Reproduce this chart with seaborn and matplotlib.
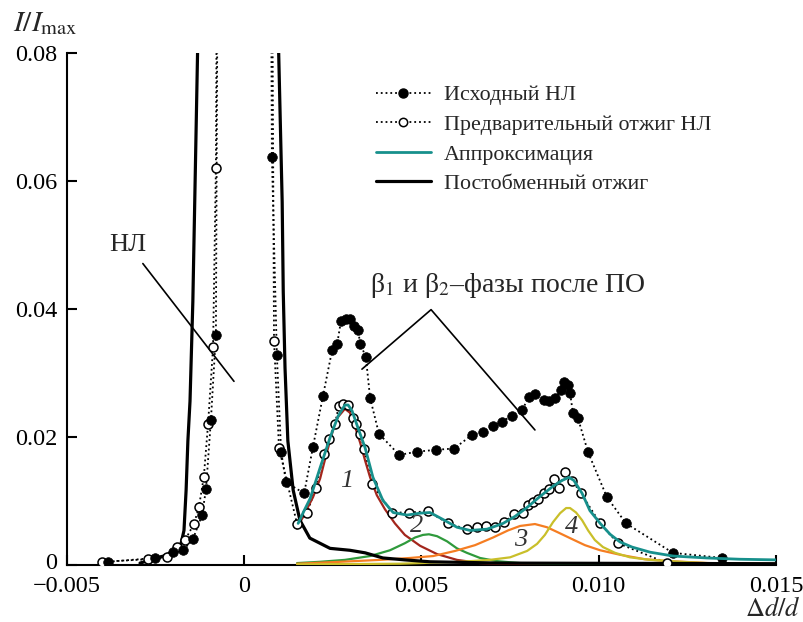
import matplotlib
matplotlib.use("Agg")
import matplotlib.pyplot as plt
from matplotlib.lines import Line2D
import matplotlib.transforms as mtransforms
import seaborn as sns
import pandas as pd

# ---------------- data ----------------
# Исходный НЛ (filled circles)
src_x = [-0.00384, -0.00252, -0.00201, -0.00173, -0.00145, -0.00119, -0.00108, -0.00094, -0.00080,
         0.0, 0.00078, 0.00092, 0.00104, 0.00118, 0.00169, 0.00194, 0.00222, 0.00248, 0.00262,
         0.00273, 0.00287, 0.00298, 0.00310, 0.00321, 0.00327, 0.00343, 0.00355, 0.00380, 0.00437,
         0.00487, 0.00541, 0.00592, 0.00642, 0.00674, 0.00702, 0.00727, 0.00755, 0.00784, 0.00803,
         0.00820, 0.00846, 0.00860, 0.00877, 0.00894, 0.00902, 0.00913, 0.00919, 0.00927, 0.00941,
         0.00970, 0.01023, 0.01077, 0.01209, 0.01348]
src_y = [0.0005, 0.0011, 0.0020, 0.0023, 0.0040, 0.0078, 0.0118, 0.0227, 0.0360,
         1.0, 0.0637, 0.0328, 0.0177, 0.0129, 0.0112, 0.0185, 0.0264, 0.0336, 0.0345,
         0.0382, 0.0385, 0.0385, 0.0374, 0.0367, 0.0346, 0.0325, 0.0261, 0.0205, 0.0172,
         0.0177, 0.0180, 0.0182, 0.0203, 0.0208, 0.0217, 0.0224, 0.0233, 0.0242, 0.0263,
         0.0267, 0.0258, 0.0256, 0.0261, 0.0273, 0.0286, 0.0281, 0.0269, 0.0238, 0.0230,
         0.0176, 0.0106, 0.0065, 0.0019, 0.0011]

# Предварительный отжиг НЛ (open circles)
pre_x = [-0.00401, -0.00272, -0.00218, -0.00190, -0.00167, -0.00142, -0.00128, -0.00114, -0.00102,
         -0.00088, -0.00080, 0.0, 0.00084, 0.00098, 0.00149, 0.00177, 0.00202, 0.00225, 0.00239,
         0.00256, 0.00267, 0.00279, 0.00293, 0.00307, 0.00315, 0.00327, 0.00338, 0.00360, 0.00417,
         0.00465, 0.00518, 0.00575, 0.00628, 0.00657, 0.00682, 0.00707, 0.00733, 0.00761, 0.00786,
         0.00800, 0.00815, 0.00829, 0.00846, 0.00860, 0.00874, 0.00888, 0.00905, 0.00925, 0.00950,
         0.01004, 0.01054, 0.01193]
pre_y = [0.0005, 0.0009, 0.0012, 0.0028, 0.0039, 0.0064, 0.0090, 0.0138, 0.0221,
         0.0340, 0.0621, 1.0, 0.0350, 0.0183, 0.0064, 0.0081, 0.0121, 0.0174, 0.0197,
         0.0221, 0.0249, 0.0252, 0.0250, 0.0230, 0.0221, 0.0205, 0.0182, 0.0127, 0.0082,
         0.0082, 0.0084, 0.0065, 0.0056, 0.0059, 0.0061, 0.0059, 0.0067, 0.0079, 0.0082,
         0.0093, 0.0099, 0.0103, 0.0112, 0.0118, 0.0135, 0.0121, 0.0146, 0.0132, 0.0112,
         0.0065, 0.0034, 0.0003]

# Аппроксимация (teal)
fit_x = [0.00152, 0.00169, 0.00186, 0.00214, 0.00242, 0.00265, 0.00284, 0.00293, 0.00304, 0.00321,
         0.00341, 0.00363, 0.00391, 0.00420, 0.00459, 0.00496, 0.00524, 0.00561, 0.00600, 0.00637,
         0.00685, 0.00730, 0.00764, 0.00798, 0.00834, 0.00871, 0.00896, 0.00916, 0.00930, 0.00953,
         0.00975, 0.01004, 0.01032, 0.01060, 0.01094, 0.01145, 0.01210, 0.01305, 0.01398, 0.01500]
fit_y = [0.0065, 0.0085, 0.0104, 0.0152, 0.0199, 0.0233, 0.0250, 0.0250, 0.0241, 0.0214,
         0.0183, 0.0137, 0.0101, 0.0082, 0.0078, 0.0081, 0.0082, 0.0071, 0.0059, 0.0054,
         0.0056, 0.0065, 0.0076, 0.0090, 0.0107, 0.0123, 0.0132, 0.0137, 0.0132, 0.0112,
         0.0085, 0.0065, 0.0048, 0.0036, 0.0028, 0.0020, 0.0014, 0.0011, 0.0009, 0.0008]

# Постобменный отжиг (black thick)
post_x = [-0.00294, -0.00243, -0.00218, -0.00195, -0.00178, -0.00170, -0.00164, -0.00159, -0.00153,
          -0.00145, -0.00130, 0.0, 0.00095, 0.00107, 0.00110, 0.00115, 0.00123, 0.00138, 0.00157,
          0.00185, 0.00242, 0.00298, 0.00341, 0.00391, 0.00453, 0.00524, 0.00721, 0.01500]
post_y = [0.0003, 0.0011, 0.0016, 0.0023, 0.0034, 0.0054, 0.0117, 0.0194, 0.0256,
          0.0412, 0.0850, 1.0, 0.0850, 0.0567, 0.0427, 0.0308, 0.0194, 0.0117, 0.0070,
          0.0042, 0.0026, 0.0023, 0.0019, 0.0011, 0.0008, 0.0005, 0.0003, 0.0002]

# component 1 (brown)
c1_x = [0.00149, 0.00171, 0.00194, 0.00214, 0.00233, 0.00250, 0.00264, 0.00284, 0.00298, 0.00312,
        0.00327, 0.00341, 0.00355, 0.00374, 0.00397, 0.00425, 0.00453, 0.00496, 0.00544, 0.00600,
        0.00665, 0.00750, 0.00900, 0.01500]
c1_y = [0.0057, 0.0081, 0.0106, 0.0135, 0.0176, 0.0210, 0.0231, 0.0244, 0.0238, 0.0217,
        0.0191, 0.0163, 0.0137, 0.0109, 0.0087, 0.0065, 0.0047, 0.0030, 0.0017, 0.0008,
        0.0003, 0.0001, 0.00005, 0.00002]

# component 2 (green)
c2_x = [0.00149, 0.00214, 0.00284, 0.00355, 0.00411, 0.00453, 0.00482, 0.00504, 0.00521, 0.00544,
        0.00572, 0.00600, 0.00628, 0.00665, 0.00713, 0.00778, 0.00890, 0.01140, 0.01500]
c2_y = [0.0003, 0.0005, 0.0008, 0.0014, 0.0023, 0.0034, 0.0043, 0.0047, 0.0048, 0.0045,
        0.0037, 0.0026, 0.0019, 0.0011, 0.0006, 0.0003, 0.00015, 0.0001, 0.0001]

# component 3 (orange)
c3_x = [0.00149, 0.00270, 0.00383, 0.00468, 0.00533, 0.00595, 0.00651, 0.00702, 0.00744, 0.00778,
        0.00820, 0.00854, 0.00885, 0.00919, 0.00961, 0.01004, 0.01060, 0.01130, 0.01200, 0.01310,
        0.01500]
c3_y = [0.0002, 0.0005, 0.0008, 0.0011, 0.0014, 0.0022, 0.0031, 0.0043, 0.0054, 0.0061,
        0.0064, 0.0059, 0.0051, 0.0042, 0.0031, 0.0023, 0.0016, 0.0009, 0.0006, 0.0003,
        0.0002]

# component 4 (olive yellow)
c4_x = [0.00149, 0.00440, 0.00610, 0.00693, 0.00750, 0.00798, 0.00826, 0.00848, 0.00871, 0.00891,
        0.00908, 0.00919, 0.00936, 0.00953, 0.00970, 0.00989, 0.01012, 0.01046, 0.01088, 0.01145,
        0.01230, 0.01340, 0.01500]
c4_y = [0.0001, 0.0002, 0.0005, 0.0008, 0.0012, 0.0022, 0.0033, 0.0047, 0.0067, 0.0081,
        0.0089, 0.0089, 0.0082, 0.0070, 0.0054, 0.0039, 0.0028, 0.0019, 0.0012, 0.0008,
        0.0005, 0.0002, 0.0001]

x_ticks = [-0.005, 0.0, 0.005, 0.010, 0.015]
x_tick_labels = ["\u22120.005", "0", "0.005", "0.010", "0.015"]
y_ticks = [0.0, 0.02, 0.04, 0.06, 0.08]
y_tick_labels = ["0", "0.02", "0.04", "0.06", "0.08"]

legend_labels = ["Исходный НЛ", "Предварительный отжиг НЛ", "Аппроксимация", "Постобменный отжиг"]
curve_labels = ["1", "2", "3", "4"]

# ---------------- style ----------------
sns.set_theme(style="ticks")
plt.rcParams["font.family"] = ["Liberation Serif", "DejaVu Serif"]
plt.rcParams["mathtext.fontset"] = "stix"

TEAL = "#17908c"
BROWN = "#a3261c"
GREEN = "#2f9a3c"
ORANGE = "#f57d22"
OLIVE = "#c9bf2a"

fig = plt.figure(figsize=(8.04, 6.22), dpi=100)
ax = fig.add_axes([67 / 804, 1 - 565 / 622, (776 - 67) / 804, (565 - 53) / 622])

def line(x, y, **kw):
    df = pd.DataFrame({"x": x, "y": y})
    sns.lineplot(data=df, x="x", y="y", ax=ax, sort=False, estimator=None, legend=False, **kw)

# components
line(c1_x, c1_y, color=BROWN, linewidth=1.6, zorder=3)
line(c2_x, c2_y, color=GREEN, linewidth=1.6, zorder=3)
line(c3_x, c3_y, color=ORANGE, linewidth=1.6, zorder=3)
line(c4_x, c4_y, color=OLIVE, linewidth=1.6, zorder=3)

# dotted series
line(src_x, src_y, color="black", linewidth=1.3, linestyle=":", zorder=2)
line(pre_x, pre_y, color="black", linewidth=1.3, linestyle=":", zorder=2)

# post-exchange anneal
line(post_x, post_y, color="black", linewidth=2.3, zorder=4)

# markers
sdf = pd.DataFrame({"x": src_x, "y": src_y})
pdf = pd.DataFrame({"x": pre_x, "y": pre_y})
sns.scatterplot(data=pdf, x="x", y="y", ax=ax, marker="o", s=42, facecolor="white",
                edgecolor="black", linewidth=1.1, zorder=5, legend=False)
sns.scatterplot(data=sdf, x="x", y="y", ax=ax, marker="o", s=48, color="black",
                edgecolor="black", linewidth=0.5, zorder=5, legend=False)

# fit
line(fit_x, fit_y, color=TEAL, linewidth=2.0, zorder=6)

# ---------------- axes ----------------
ax.set_xlim(-0.005, 0.015)
ax.set_ylim(0, 0.08)
ax.set_xticks(x_ticks)
ax.set_xticklabels(x_tick_labels)
ax.set_yticks(y_ticks)
ax.set_yticklabels(y_tick_labels)
ax.set_xlabel("")
ax.set_ylabel("")
ax.tick_params(direction="in", length=7, width=1.5, labelsize=17.5, colors="black", pad=7)
ax.tick_params(axis="x", pad=8)
lab0 = ax.get_yticklabels()[0]
lab0.set_transform(mtransforms.offset_copy(lab0.get_transform(), fig=fig, x=0, y=4, units="dots"))
for s in ["top", "right"]:
    ax.spines[s].set_visible(False)
for s in ["left", "bottom"]:
    ax.spines[s].set_linewidth(1.5)
    ax.spines[s].set_color("black")
ax.grid(False)

fig.text(13 / 804, 1 - 31 / 622, r"$I/I_{\mathrm{max}}$", fontsize=21, ha="left", va="baseline")
fig.text(800 / 804, 6 / 622, r"$\Delta d/d$", fontsize=19, ha="right", va="baseline")

# annotations
ax.text(-0.00328, 0.050, "НЛ", fontsize=19, ha="center", va="center")
ax.plot([-0.00286, -0.00029], [0.0471, 0.0287], color="black", linewidth=1.2)
ax.text(0.00744, 0.0437, "β$_1$ и β$_2$–фазы после ПО", fontsize=20, ha="center", va="center")
ax.plot([0.00332, 0.00527, 0.00820], [0.0306, 0.0399, 0.0211], color="black", linewidth=1.2)

lab_pos = [(0.0029, 0.0132), (0.00487, 0.0061), (0.0078, 0.0039), (0.00922, 0.0059)]
for lab, (lx, ly) in zip(curve_labels, lab_pos):
    ax.text(lx, ly, lab, fontsize=19, style="italic", ha="center", va="center", color="#333333", zorder=7)

# legend
handles = [
    Line2D([], [], color="black", linestyle=":", linewidth=1.3, marker="o", markersize=6.5,
           markerfacecolor="black", markeredgecolor="black"),
    Line2D([], [], color="black", linestyle=":", linewidth=1.3, marker="o", markersize=6,
           markerfacecolor="white", markeredgecolor="black", markeredgewidth=1.1),
    Line2D([], [], color=TEAL, linewidth=2.0),
    Line2D([], [], color="black", linewidth=2.3),
]
leg = ax.legend(handles, legend_labels, loc="upper left", bbox_to_anchor=(376 / 804, 1 - 85 / 622),
                bbox_transform=fig.transFigure, frameon=False, fontsize=15.8, handlelength=2.5,
                handletextpad=0.6, labelspacing=0.42, borderaxespad=0, borderpad=0)

fig.savefig("out.png", dpi=100)
